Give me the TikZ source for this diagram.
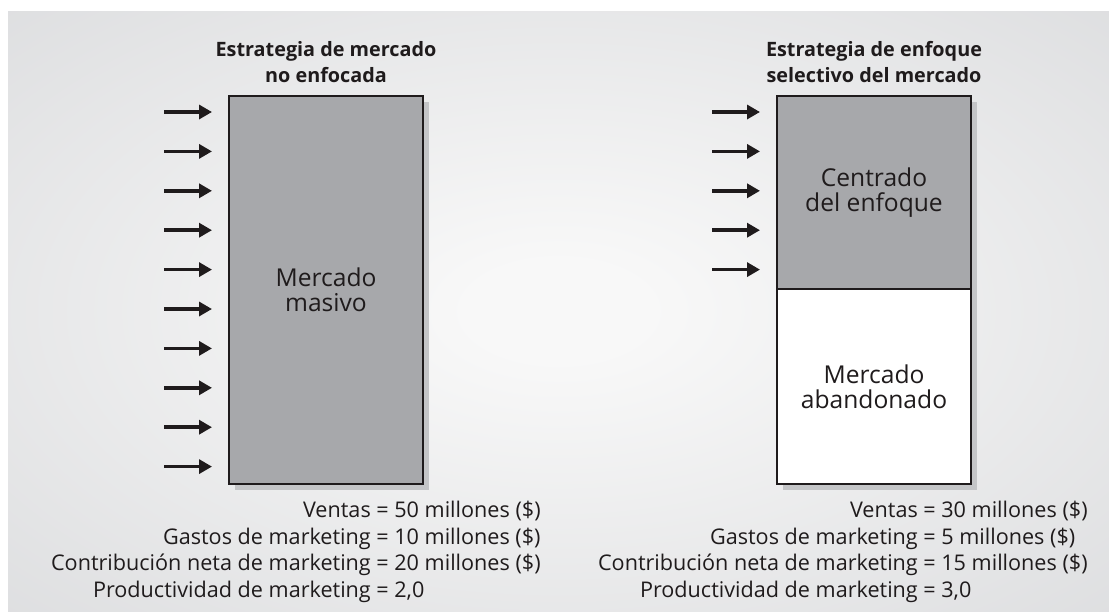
\documentclass[tikz,border=0pt]{standalone}
\usepackage{fontspec}
\setmainfont{Open Sans}
\usepackage{xcolor}
\usetikzlibrary{positioning, arrows.meta, calc, shadows}
\definecolor{ink}{HTML}{1F1B1C}
\definecolor{panel}{HTML}{D9DADC}
\definecolor{glow}{HTML}{F8F8F8}
\definecolor{massc}{HTML}{A7A8AB}
\definecolor{shadowc}{HTML}{C4C5C7}
\pgfdeclareradialshading{panelglow}{\pgfpoint{0bp}{0bp}}{%
  color(0bp)=(glow); color(4bp)=(glow); color(42bp)=(panel); color(50bp)=(panel)}

\begin{document}
\begin{tikzpicture}[
  x=0.5pt, y=-0.5pt,
  font=\fontsize{10.8}{13.25}\selectfont,
  text=ink,
  >={Triangle[length=6.5pt, width=7pt]},
  mktbox/.style={draw=ink, line width=1pt, fill=massc, align=center, inner sep=0pt, outer sep=0pt,
                 font=\fontsize{12.3}{12.6}\selectfont, minimum width=97pt,
                 drop shadow={shadow xshift=2.75pt, shadow yshift=-2.75pt, fill=shadowc, opacity=1}},
  title/.style={font=\bfseries\fontsize{9.9}{13}\selectfont, align=center},
  stat/.style={align=left, inner sep=0pt, anchor=north west},
  feed/.style={->, line width=1.8pt, draw=ink},
]
\newcommand{\eqline}[2]{\llap{#1 }= #2}

% ---------------- background ----------------
\useasboundingbox (0,0) rectangle (1109,611);
\fill[white] (0,0) rectangle (1109,611);
\shade[shading=panelglow] (8,11) rectangle (1109,611);

% ---------------- Mass market (left) ----------------
\node[mktbox, minimum height=194pt] (masivo) at (326,290) {Mercado\\masivo};
\node[title, above=3pt of masivo] {Estrategia de mercado\\no enfocada};
\foreach \k in {0,...,9}
  \draw[feed] ($(masivo.north west)+(-65,16+39.4*\k)$) -- ++(48,0);

\node[stat] (statl) at (376,501) {%
  \eqline{Ventas}{50 millones (\$)}\\
  \eqline{Gastos de marketing}{10 millones (\$)}\\
  \eqline{Contribución neta de marketing}{20 millones (\$)}\\
  \eqline{Productividad de marketing}{2,0}};

% ---------------- Focused market (right) ----------------
\node[mktbox, minimum height=96.5pt] (centro) at (874,192.5) {Centrado\\del enfoque};
\node[mktbox, fill=white, minimum height=97.5pt] (aband) at (874,386.5) {Mercado\\abandonado};
\node[title, above=3pt of centro] {Estrategia de enfoque\\selectivo del mercado};
\foreach \k in {0,...,4}
  \draw[feed] ($(centro.north west)+(-65,16+39.4*\k)$) -- ++(48,0);

\node[stat] (statr) at (923,501) {%
  \eqline{Ventas}{30 millones (\$)}\\
  \eqline{Gastos de marketing}{5 millones (\$)}\\
  \eqline{Contribución neta de marketing}{15 millones (\$)}\\
  \eqline{Productividad de marketing}{3,0}};

\end{tikzpicture}
\end{document}
